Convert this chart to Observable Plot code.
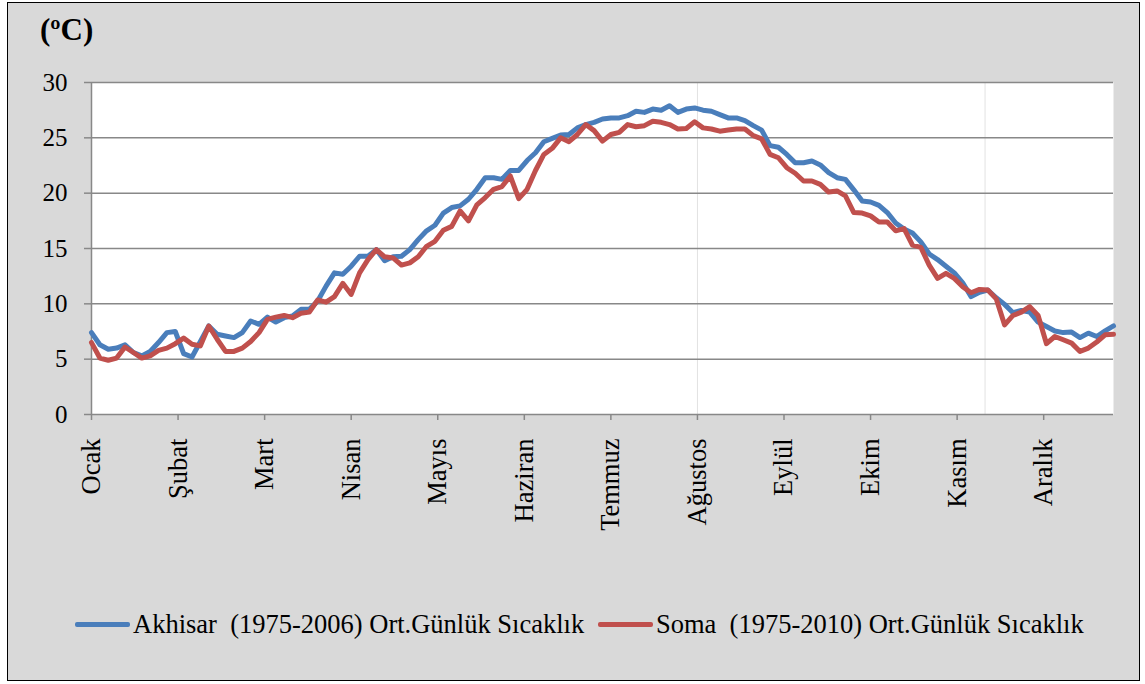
<!DOCTYPE html>
<html><head><meta charset="utf-8">
<script src="https://cdn.jsdelivr.net/npm/d3@7"></script>
<script src="https://cdn.jsdelivr.net/npm/@observablehq/plot@0.6"></script>
<style>
html,body{margin:0;padding:0;background:#fff;}
#wrap{position:relative;width:1145px;height:684px;overflow:hidden;font-family:"Liberation Serif","Times New Roman",serif;color:#000;}
#frame{position:absolute;left:7px;top:2px;width:1131px;height:677px;border:1.5px solid #000;background:#d9d9d9;}
#title{position:absolute;left:40px;top:14px;font-weight:bold;font-size:31px;line-height:1;}
#chart{position:absolute;left:0;top:0;}
.leg{position:absolute;top:611px;display:flex;align-items:center;font-size:26.5px;white-space:nowrap;line-height:1;}
.sw{display:inline-block;width:55px;height:5px;border-radius:2px;margin-right:3px;}
</style></head>
<body>
<div id="wrap">
  <div id="frame"></div>
  <div id="chart"></div>
  <div id="title">(ºC)</div>
  <div class="leg" style="left:75px"><span class="sw" style="background:#4a7ebb"></span>Akhisar&nbsp; (1975-2006) Ort.Günlük Sıcaklık</div>
  <div class="leg" style="left:598px"><span class="sw" style="background:#c0504d"></span>Soma&nbsp; (1975-2010) Ort.Günlük Sıcaklık</div>
</div>
<script>
const months = ["Ocak","Şubat","Mart","Nisan","Mayıs","Haziran","Temmuz","Ağustos","Eylül","Ekim","Kasım","Aralık"];
const monthTickDays = [0,31,62,93,124,155,186,217,248,279,310,341];
const yTicks = [0,5,10,15,20,25,30];
const faintLines = [217,320];
// values read every 3 days (last point = day 366)
const akhisar = [7.4,6.3,5.9,6.0,6.3,5.6,5.3,5.7,6.5,7.4,7.5,5.5,5.2,6.6,8.0,7.25,7.1,6.95,7.4,8.45,
  8.15,8.8,8.35,8.75,8.9,9.5,9.5,10.25,11.6,12.8,12.67,13.4,14.3,14.3,14.9,13.9,14.25,14.3,14.9,15.8,
  16.6,17.1,18.2,18.7,18.85,19.45,20.35,21.4,21.4,21.25,22.05,22.05,22.95,23.65,24.65,24.95,25.25,25.3,25.9,26.2,
  26.4,26.7,26.8,26.8,27.0,27.4,27.3,27.6,27.5,27.9,27.3,27.6,27.7,27.5,27.4,27.1,26.8,26.8,26.55,26.1,
  25.7,24.3,24.15,23.5,22.75,22.75,22.9,22.55,21.85,21.4,21.25,20.3,19.3,19.2,18.9,18.25,17.3,16.75,16.4,15.6,
  14.5,14.0,13.4,12.8,11.9,10.65,11.05,11.25,10.55,9.95,9.2,9.4,9.25,8.35,7.95,7.55,7.4,7.45,6.95,7.35,
  7.05,7.55,8.0];
const soma = [6.5,5.1,4.9,5.1,6.1,5.6,5.1,5.3,5.8,6.0,6.4,6.9,6.35,6.2,8.0,6.8,5.7,5.7,6.0,6.6,
  7.4,8.6,8.8,8.95,8.75,9.15,9.25,10.35,10.15,10.65,11.85,10.85,12.8,14.0,14.9,14.25,14.15,13.5,13.7,14.25,
  15.2,15.65,16.65,17.0,18.4,17.5,18.95,19.6,20.35,20.6,21.55,19.5,20.35,22.05,23.5,24.05,25.0,24.65,25.3,26.2,
  25.65,24.7,25.3,25.5,26.2,26.0,26.1,26.5,26.4,26.2,25.8,25.85,26.45,25.9,25.8,25.6,25.7,25.8,25.8,25.2,
  24.9,23.5,23.2,22.3,21.8,21.1,21.1,20.8,20.1,20.2,19.75,18.25,18.2,17.95,17.4,17.4,16.6,16.8,15.3,15.1,
  13.5,12.3,12.75,12.3,11.55,11.0,11.3,11.25,10.45,8.1,8.95,9.25,9.75,8.95,6.4,7.05,6.75,6.45,5.7,6.0,
  6.55,7.2,7.25];
const dayOf = (i) => Math.min(i * 3, 366);
const blueRows = akhisar.map((v, i) => ({day: dayOf(i), t: v}));
const redRows = soma.map((v, i) => ({day: dayOf(i), t: v}));

const chart = Plot.plot({
  width: 1145, height: 684,
  marginLeft: 91, marginRight: 32, marginTop: 82, marginBottom: 270,
  style: {background: "transparent", fontFamily: "'Liberation Serif','Times New Roman',serif", fontSize: "25px", color: "#000"},
  x: {domain: [0, 366]},
  y: {domain: [0, 30]},
  marks: [
    Plot.frame({fill: "white", stroke: "none"}),
    Plot.ruleX(faintLines, {stroke: "#e2e2e2", strokeWidth: 1}),
    Plot.gridY(yTicks, {stroke: "#888", strokeOpacity: 1, strokeWidth: 1.5}),
    Plot.ruleX([0], {stroke: "#888", strokeWidth: 1.5}),
    Plot.axisY(yTicks, {tickSize: 7, tickPadding: 17, stroke: "#888", strokeWidth: 1.5, fill: "#000", label: null, fontSize: 25}),
    Plot.axisX(monthTickDays, {tickSize: 6, tickPadding: 18, tickRotate: -90, stroke: "#888", strokeWidth: 1.5, fill: "#000", label: null, fontSize: 26.5,
      tickFormat: (d) => months[monthTickDays.indexOf(d)]}),
    Plot.line(blueRows, {x: "day", y: "t", stroke: "#4a7ebb", strokeWidth: 5, curve: "linear", strokeLinejoin: "round"}),
    Plot.line(redRows, {x: "day", y: "t", stroke: "#c0504d", strokeWidth: 5, curve: "linear", strokeLinejoin: "round"})
  ]
});
document.getElementById("chart").append(chart);
</script>
</body></html>
